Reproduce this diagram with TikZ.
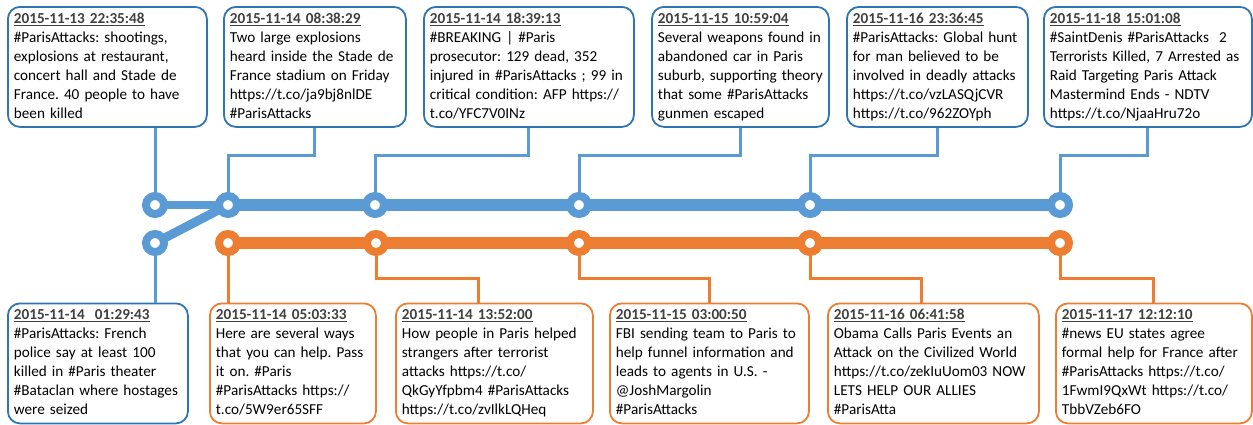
\documentclass[tikz,border=0pt]{standalone}
\usepackage{fontspec}
\setmainfont{Carlito}
\usetikzlibrary{backgrounds}
\definecolor{lineblue}{HTML}{5B9BD5}
\definecolor{boxblue}{HTML}{2E75B6}
\definecolor{lineorange}{HTML}{ED7D31}
\definecolor{dategray}{HTML}{404040}
\frenchspacing
\newcommand{\tweet}[2]{\begin{tabular}{@{}l@{}}\textcolor{dategray}{\underline{\textbf{#1}}}\\#2\end{tabular}}

\begin{document}
\begin{tikzpicture}[x=1pt,y=-1pt,
    font=\fontsize{15.2}{19}\selectfont,
    stop/.style={circle,draw=#1,fill=white,line width=8pt,minimum size=18pt,inner sep=0pt},
    tweetbox/.style={draw=#1,line width=1.8pt,rounded corners=12pt,fill=white,anchor=north west,
        inner xsep=6pt,inner ysep=0pt,align=left,minimum height=120pt},
    link/.style={draw=#1,line width=3pt}]
    \useasboundingbox (0,0) rectangle (1253,424);

    % stops on the two lines
    \node[stop=lineblue] (s0) at (155,243) {};
    \node[stop=lineblue] (s1) at (155,205) {};
    \node[stop=lineblue] (s2) at (228,205) {};
    \node[stop=lineblue] (s3) at (375,205) {};
    \node[stop=lineblue] (s4) at (579,205) {};
    \node[stop=lineblue] (s5) at (810,205) {};
    \node[stop=lineblue] (s6) at (1060,205) {};
    \node[stop=lineorange] (r1) at (228,243) {};
    \node[stop=lineorange] (r2) at (376,243) {};
    \node[stop=lineorange] (r3) at (579,243) {};
    \node[stop=lineorange] (r4) at (810,243) {};
    \node[stop=lineorange] (r5) at (1060,243) {};

    \begin{pgfonlayer}{background}
        \draw[lineblue,line width=8pt] (s1.center) -- (s2.center);
        \draw[lineblue,line width=9pt] (s0.center) -- (s2.center);
        \draw[lineblue,line width=12pt] (s2.center) -- (s6.center);
        \draw[lineorange,line width=12pt] (r1.center) -- (r5.center);
    \end{pgfonlayer}

    % tweets above
    \node[tweetbox=boxblue,text width=187pt] (t1) at (7,6) {\tweet{2015-11-13 22:35:48}{\#ParisAttacks: shootings,\\ explosions at restaurant,\\ concert hall and Stade de\\ France. 40 people to have\\ been killed}};
    \node[tweetbox=boxblue,text width=170pt] (t2) at (223,6) {\tweet{2015-11-14 08:38:29}{Two large explosions\\ heard inside the Stade de\\ France stadium on Friday\\ https://t.co/ja9bj8nlDE\\ \#ParisAttacks}};
    \node[tweetbox=boxblue,text width=198pt] (t3) at (423,6) {\tweet{2015-11-14 18:39:13}{\#BREAKING | \#Paris\\ prosecutor: 129 dead, 352\\ injured in \#ParisAttacks ; 99 in\\ critical condition: AFP https://\\ t.co/YFC7V0INz}};
    \node[tweetbox=boxblue,text width=165pt] (t4) at (651,6) {\tweet{2015-11-15 10:59:04}{Several weapons found in\\ abandoned car in Paris\\ suburb, supporting theory\\ that some \#ParisAttacks\\ gunmen escaped}};
    \node[tweetbox=boxblue,text width=169pt] (t5) at (846,6) {\tweet{2015-11-16 23:36:45}{\#ParisAttacks: Global hunt\\ for man believed to be\\ involved in deadly attacks\\ https://t.co/vzLASQjCVR\\ https://t.co/962ZOYph}};
    \node[tweetbox=boxblue,text width=196pt] (t6) at (1043,6) {\tweet{2015-11-18 15:01:08}{\#SaintDenis \#ParisAttacks\ \ 2\\ Terrorists Killed, 7 Arrested as\\ Raid Targeting Paris Attack\\ Mastermind Ends - NDTV\\ https://t.co/NjaaHru72o}};

    % tweets below
    \node[tweetbox=boxblue,text width=168pt] (l1) at (7,302.5) {\tweet{2015-11-14\ \ 01:29:43}{\#ParisAttacks: French\\ police say at least 100\\ killed in \#Paris theater\\ \#Bataclan where hostages\\ were seized}};
    \node[tweetbox=lineorange,text width=154pt] (l2) at (209,302.5) {\tweet{2015-11-14 05:03:33}{Here are several ways\\ that you can help. Pass\\ it on. \#Paris\\ \#ParisAttacks https://\\ t.co/5W9er65SFF}};
    \node[tweetbox=lineorange,text width=185pt] (l3) at (395,302.5) {\tweet{2015-11-14 13:52:00}{How people in Paris helped\\ strangers after terrorist\\ attacks https://t.co/\\ QkGyYfpbm4 \#ParisAttacks\\ https://t.co/zvIlkLQHeq}};
    \node[tweetbox=lineorange,text width=187pt] (l4) at (609,302.5) {\tweet{2015-11-15 03:00:50}{FBI sending team to Paris to\\ help funnel information and\\ leads to agents in U.S. -\\ @JoshMargolin\\ \#ParisAttacks}};
    \node[tweetbox=lineorange,text width=199pt] (l5) at (827,302.5) {\tweet{2015-11-16 06:41:58}{Obama Calls Paris Events an\\ Attack on the Civilized World\\ https://t.co/zekIuUom03 NOW\\ LETS HELP OUR ALLIES\\ \#ParisAtta}};
    \node[tweetbox=lineorange,text width=184pt] (l6) at (1055,302.5) {\tweet{2015-11-17 12:12:10}{\#news EU states agree\\ formal help for France after\\ \#ParisAttacks https://t.co/\\ 1FwmI9QxWt https://t.co/\\ TbbVZeb6FO}};

    % links from tweets to stops
    \draw[link=lineblue] (s1 |- t1.south) -- (s1);
    \draw[link=lineblue] (t2.south) -- ++(0,28) -| (s2);
    \draw[link=lineblue] (t3.south) -- ++(0,28) -| (s3);
    \draw[link=lineblue] (t4.south) -- ++(0,28) -| (s4);
    \draw[link=lineblue] (t5.south) -- ++(0,28) -| (s5);
    \draw[link=lineblue] (t6.south) -- ++(0,28) -| (s6);
    \draw[link=lineblue] (s0) -- (s0 |- l1.north);
    \draw[link=lineorange] (r1) -- (r1 |- l2.north);
    \draw[link=lineorange] (r2) -- ++(0,35) -| ([xshift=-16pt]l3.north);
    \draw[link=lineorange] (r3) -- ++(0,35) -| (l4.north);
    \draw[link=lineorange] (r4) -- ++(0,35) -| ([xshift=-12pt]l5.north);
    \draw[link=lineorange] (r5) -- ++(0,35) -| (l6.north);
\end{tikzpicture}
\end{document}
